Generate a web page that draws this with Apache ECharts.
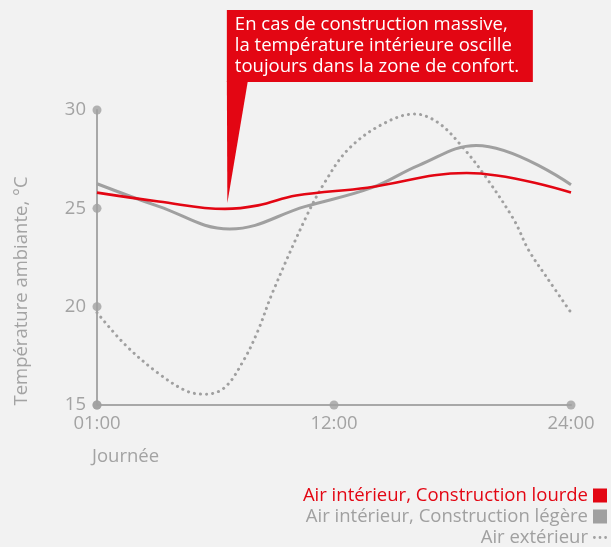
<!DOCTYPE html>
<html>
<head>
<meta charset="utf-8">
<script src="https://cdn.jsdelivr.net/npm/echarts@6/dist/echarts.min.js"></script>
<style>
html,body{margin:0;padding:0;background:#f2f2f2;}
#c{width:611px;height:547px;}
</style>
</head>
<body>
<div id="c"></div>
<script>
// Position along the day axis: 0 = 01:00, 50 = 12:00, 100 = 24:00
var xTickPos = [0, 50, 100];
var xTickLabels = ['01:00', '12:00', '24:00'];
var yTicks = [15, 20, 25, 30];

var heavyPos = [0, 13, 27, 34, 42, 57, 78, 100];
var heavyVal = [25.8, 25.35, 24.97, 25.15, 25.65, 26.05, 26.8, 25.8];

var lightPos = [0, 13, 28, 44, 58, 68, 80, 100];
var lightVal = [26.25, 25.1, 23.95, 25.1, 26.05, 27.2, 28.2, 26.2];

var outPos = [0, 6, 13, 19, 23, 27, 31, 34, 37, 44, 48, 53, 60, 67, 72, 77, 82, 88, 91, 95, 100];
var outVal = [19.7, 18.05, 16.6, 15.7, 15.55, 15.9, 17.3, 18.8, 20.7, 24.5, 26.3, 28, 29.25, 29.8, 29.35, 28.15, 26.6, 24.4, 22.9, 21.45, 19.7];

var seriesNames = ['Air intérieur, Construction lourde', 'Air intérieur, Construction légère', 'Air extérieur'];
var calloutText = ['En cas de construction massive,', 'la température intérieure oscille', 'toujours dans la zone de confort.'];
var calloutAnchor = [27.5, 25.27];
var yAxisTitle = 'Température ambiante, °C';
var xAxisTitle = 'Journée';

var RED = '#e30613', GRAY = '#a0a0a0', AXIS = '#a8a8a8', TXT = '#a3a3a3';
var FONT = '"Open Sans", "Liberation Sans", Arial, sans-serif';
var DOTS = 'path://M1.5,0A1.5,1.5,0,1,1,1.5,3A1.5,1.5,0,1,1,1.5,0ZM7.5,0A1.5,1.5,0,1,1,7.5,3A1.5,1.5,0,1,1,7.5,0ZM13.5,0A1.5,1.5,0,1,1,13.5,3A1.5,1.5,0,1,1,13.5,0Z';

function zip(a, b) { return a.map(function (v, i) { return [v, b[i]]; }); }

var chart = echarts.init(document.getElementById('c'), null, { renderer: 'canvas' });
var tickDots = yTicks.map(function (v) { return [0, v]; }).concat(xTickPos.map(function (p) { return [p, yTicks[0]]; }));

chart.setOption({
  backgroundColor: '#f2f2f2',
  animation: false,
  grid: { left: 97, right: 40, top: 110, bottom: 142 },
  xAxis: {
    type: 'value', min: 0, max: 100, interval: 50,
    axisLine: { show: true, lineStyle: { color: AXIS, width: 2 } },
    axisTick: { show: false },
    splitLine: { show: false },
    axisLabel: {
      margin: 9, fontSize: 18.5, color: TXT, fontFamily: FONT,
      formatter: function (v) { var i = xTickPos.indexOf(v); return i >= 0 ? xTickLabels[i] : ''; }
    }
  },
  yAxis: {
    type: 'value', min: 15, max: 30, interval: 5,
    axisLine: { show: true, lineStyle: { color: AXIS, width: 2 } },
    axisTick: { show: false },
    splitLine: { show: false },
    axisLabel: { margin: 11, fontSize: 18.5, color: TXT, fontFamily: FONT }
  },
  legend: {
    orient: 'vertical', right: 4, top: 486, height: 80, align: 'right', padding: 0,
    itemWidth: 14, itemHeight: 14, itemGap: 2,
    textStyle: { fontSize: 18.5, lineHeight: 17, fontFamily: FONT },
    data: [
      { name: seriesNames[0], icon: 'rect', textStyle: { color: RED } },
      { name: seriesNames[1], icon: 'rect', textStyle: { color: GRAY } },
      { name: seriesNames[2], icon: DOTS, itemStyle: { color: GRAY }, textStyle: { color: GRAY } }
    ]
  },
  series: [
    {
      name: seriesNames[2], type: 'line', smooth: 0.35, symbol: 'none',
      data: zip(outPos, outVal), color: GRAY,
      lineStyle: { color: GRAY, width: 3, type: [0.1, 6], cap: 'round' }, z: 2
    },
    {
      name: seriesNames[1], type: 'line', smooth: 0.4, symbol: 'none',
      data: zip(lightPos, lightVal), color: GRAY,
      lineStyle: { color: GRAY, width: 3 }, z: 3
    },
    {
      name: seriesNames[0], type: 'line', smooth: 0.4, symbol: 'none',
      data: zip(heavyPos, heavyVal), color: RED,
      lineStyle: { color: RED, width: 2.6 }, z: 4
    },
    {
      name: 'ticks', type: 'scatter', data: tickDots, symbolSize: 9,
      itemStyle: { color: GRAY }, clip: false, silent: true, z: 5
    }
  ]
});

var p = chart.convertToPixel({ gridIndex: 0 }, calloutAnchor);
var boxW = 306, boxH = 72;
var boxL = p[0] - 0.5, boxT = p[1] - 193, boxB = boxT + boxH;

chart.setOption({
  graphic: [
    {
      type: 'polygon', silent: true,
      shape: { points: [[boxL, boxB - 1], [boxL + 21, boxB - 1], [p[0], p[1]]] },
      style: { fill: RED }
    },
    {
      type: 'rect', silent: true,
      shape: { x: boxL, y: boxT, width: boxW, height: boxH },
      style: { fill: RED }
    },
    {
      type: 'text', silent: true, x: boxL + 8, y: boxT + 4,
      style: { text: calloutText.join('\n'), fill: '#ffffff', font: '18.5px ' + FONT, lineHeight: 21 }
    },
    {
      type: 'text', silent: true, x: 22, y: 291, rotation: Math.PI / 2,
      style: { text: yAxisTitle, fill: TXT, font: '18.5px ' + FONT, align: 'center', verticalAlign: 'middle' }
    },
    {
      type: 'text', silent: true, x: 92, y: 457,
      style: { text: xAxisTitle, fill: TXT, font: '18.5px ' + FONT, align: 'left', verticalAlign: 'middle' }
    }
  ]
});
</script>
</body>
</html>
